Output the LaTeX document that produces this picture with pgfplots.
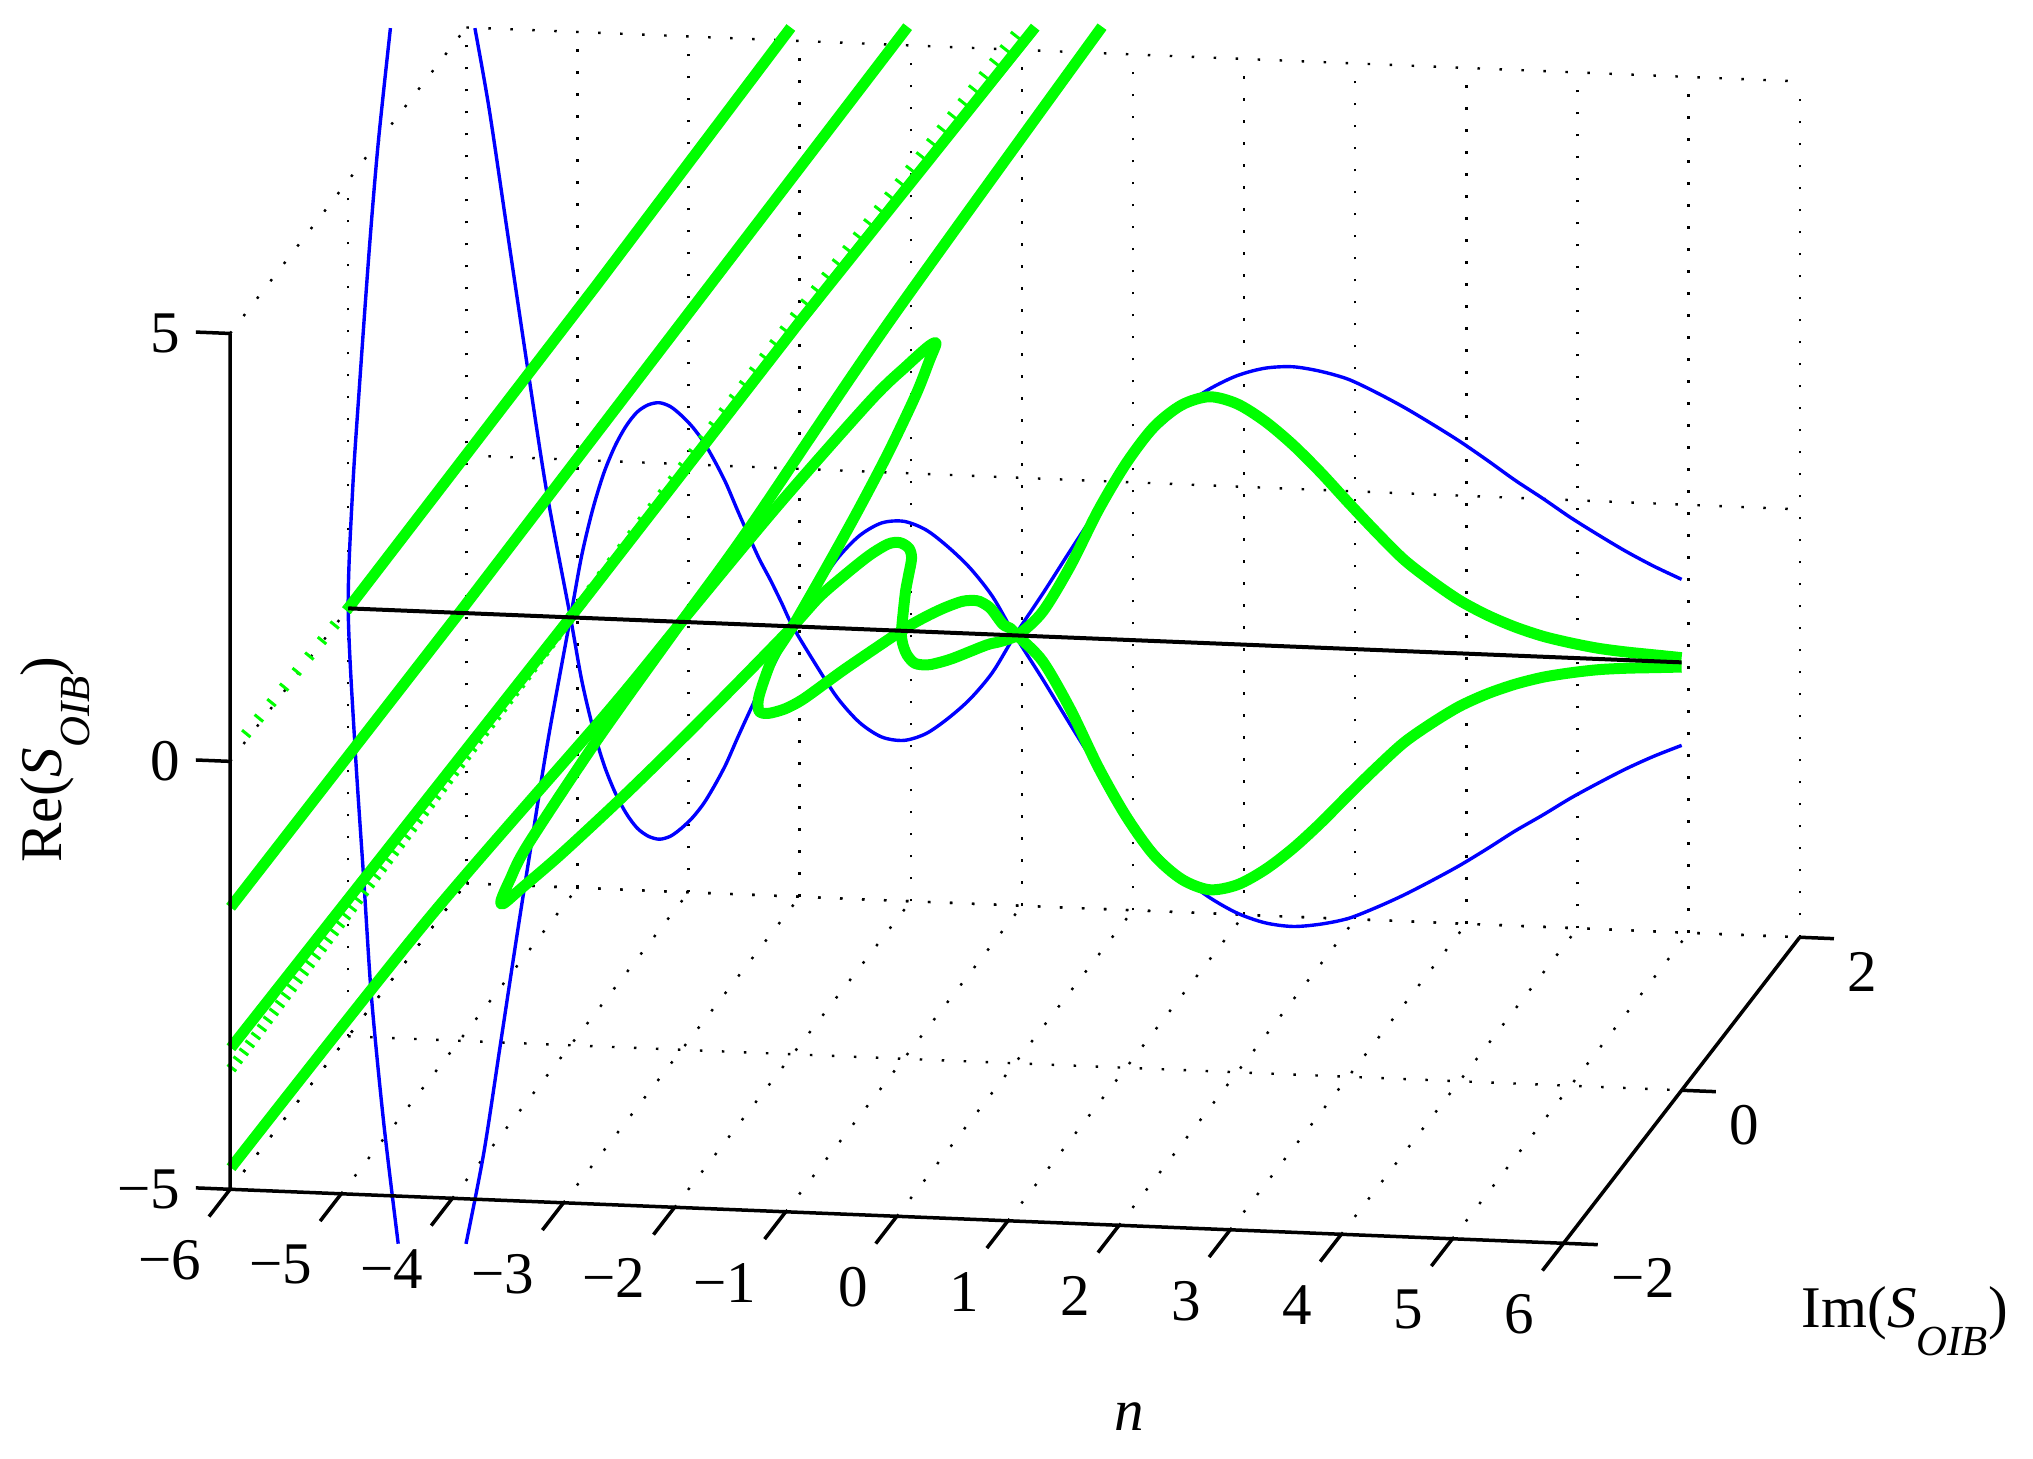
\documentclass[border=0pt]{standalone}
\usepackage{fontspec}
\setmainfont{Liberation Serif}
\usepackage{pgfplots}
\pgfplotsset{compat=1.18}
\definecolor{lgreen}{RGB}{0,255,0}
\definecolor{lblue}{RGB}{0,0,255}
\newcommand{\Soib}{\textit{S}\raisebox{-0.47em}{\fontsize{12.2}{12}\selectfont\textit{OIB}}}
\begin{document}
\begin{tikzpicture}
\begin{axis}[
  x={(1.1112cm,-0.045cm)}, y={(0.5905cm,0.765cm)}, z={(0cm,0.8558cm)},
  xmin=-6, xmax=6, ymin=-2, ymax=2, zmin=-5, zmax=5,
  clip=false,
  font=\fontsize{16.8}{20}\selectfont,
  xtick={-6,-5,-4,-3,-2,-1,0,1,2,3,4,5,6},
  ytick={-2,0,2},
  ztick={-5,0,5},
  xticklabels={−6,−5,−4,−3,−2,−1,0,1,2,3,4,5,6},
  yticklabels={−2,0,2},
  zticklabels={−5,0,5},
  xticklabel style={anchor=east,inner sep=0pt,xshift=-0.285cm,yshift=-0.71cm},
  yticklabel style={anchor=west,inner sep=0pt,xshift=0.475cm,yshift=-0.35cm},
  zticklabel style={anchor=east,inner sep=0pt,xshift=-0.49cm,yshift=0cm},
  grid=major,
  grid style={black,line width=0.024cm,dash pattern=on 0.025cm off 0.195cm},
  axis line style={draw=none},
  major tick style={draw=none},
  tick align=outside,
  major tick length=0pt,
  every axis x label/.style={at={(axis cs:1.03,0,-9.07)},anchor=center},
  every axis y label/.style={at={(axis cs:6.97,0,-7.72)},anchor=base west},
  every axis z label/.style={at={(axis cs:-8.58,0,-3.25)},rotate=90,anchor=base west},
  xlabel={\textit{n}},
  ylabel={Im(\Soib)},
  zlabel={Re(\Soib)},
  unbounded coords=jump,
]
% blue curves, Im = 0
\addplot3[lblue,line width=0.034cm,smooth] coordinates {
 (-5.62,0,6.8)(-5.73,0,5.45)(-5.81,0,4.21)(-5.90,0,2.58)(-5.96,0,1.39)(-6,0,0)
 (-5.94,0,-1.59)(-5.86,0,-3.16)(-5.79,0,-4.54)(-5.68,0,-6.0)(-5.55,0,-7.4)};
\addplot3[lblue,line width=0.034cm,smooth] coordinates {
 (-4.86,0,6.84)(-4.73,0,5.89)(-4.55,0,4.32)(-4.37,0,2.76)(-4.21,0,1.43)(-4,0,0)
 (-3.9,0,-0.72)(-3.8,0,-1.27)(-3.7,0,-1.70)(-3.6,0,-2.02)(-3.5,0,-2.26)(-3.4,0,-2.43)(-3.3,0,-2.52)(-3.2,0,-2.55)
 (-3.1,0,-2.51)(-3.0,0,-2.41)(-2.9,0,-2.28)(-2.8,0,-2.11)(-2.7,0,-1.89)(-2.6,0,-1.64)(-2.5,0,-1.34)(-2.4,0,-1.05)
 (-2.3,0,-0.77)(-2.2,0,-0.53)(-2.1,0,-0.27)(-2,0,0)
 (-1.8,0,0.42)(-1.6,0,0.81)(-1.4,0,1.09)(-1.2,0,1.25)(-1.0,0,1.28)(-0.8,0,1.19)(-0.6,0,1.0)(-0.4,0,0.76)(-0.2,0,0.44)(0,0,0)
 (0.25,0,-0.50)(0.5,0,-1.02)(0.75,0,-1.53)(1,0,-2.03)(1.25,0,-2.44)(1.5,0,-2.74)(1.75,0,-2.97)(2,0,-3.14)(2.25,0,-3.24)(2.5,0,-3.27)
 (2.75,0,-3.23)(3,0,-3.15)(3.25,0,-3.01)(3.5,0,-2.85)(3.75,0,-2.67)(4,0,-2.48)(4.25,0,-2.27)(4.5,0,-2.05)(4.75,0,-1.85)
 (5,0,-1.64)(5.25,0,-1.45)(5.5,0,-1.27)(5.75,0,-1.11)(6,0,-0.97)};
\addplot3[lblue,line width=0.034cm,smooth] coordinates {
 (-4.94,0,-7.37)(-4.78,0,-6.3)(-4.63,0,-5.02)(-4.48,0,-3.73)(-4.35,0,-2.65)(-4.2,0,-1.43)(-4,0,0)
 (-3.9,0,0.72)(-3.8,0,1.27)(-3.7,0,1.70)(-3.6,0,2.02)(-3.5,0,2.26)(-3.4,0,2.43)(-3.3,0,2.52)(-3.2,0,2.55)
 (-3.1,0,2.51)(-3.0,0,2.41)(-2.9,0,2.28)(-2.8,0,2.11)(-2.7,0,1.89)(-2.6,0,1.64)(-2.5,0,1.34)(-2.4,0,1.05)
 (-2.3,0,0.77)(-2.2,0,0.53)(-2.1,0,0.27)(-2,0,0)
 (-1.8,0,-0.42)(-1.6,0,-0.81)(-1.4,0,-1.09)(-1.2,0,-1.25)(-1.0,0,-1.28)(-0.8,0,-1.19)(-0.6,0,-1.0)(-0.4,0,-0.76)(-0.2,0,-0.44)(0,0,0)
 (0.25,0,0.50)(0.5,0,1.02)(0.75,0,1.53)(1,0,2.03)(1.25,0,2.44)(1.5,0,2.74)(1.75,0,2.97)(2,0,3.14)(2.25,0,3.24)(2.5,0,3.27)
 (2.75,0,3.23)(3,0,3.15)(3.25,0,3.01)(3.5,0,2.85)(3.75,0,2.67)(4,0,2.48)(4.25,0,2.27)(4.5,0,2.05)(4.75,0,1.85)
 (5,0,1.64)(5.25,0,1.45)(5.5,0,1.27)(5.75,0,1.11)(6,0,0.97)};
% green: sparse samples first
\addplot3[lgreen,line width=0.11cm,dash pattern=on 0.03cm off 0.17cm] coordinates {(-6,0,0)(-6.05,-1.79,0)};
\addplot3[lgreen,line width=0.11cm,dash pattern=on 0.03cm off 0.07cm] coordinates {(-3.92,-5.9,0)(-4,0,0)};
\addplot3[lgreen,line width=0.11cm,dash pattern=on 0.03cm off 0.14cm] coordinates {(-4,0,0)(-4.07,3.86,0)(-4.04,7.65,0)};
% green: straight runs
\addplot3[lgreen,line width=0.11cm] coordinates {(-6,0,0)(-6.01,4.22,0)(-6.05,7.59,0)};
\addplot3[lgreen,line width=0.11cm] coordinates {(-5.013,-3.85,0)(-5,0,0)(-5.036,7.66,0)};
\addplot3[lgreen,line width=0.11cm] coordinates {(-4.064,-5.63,0)(-4,0,0)(-3.99,3.89,0)(-3.92,7.72,0)};
% green: the two branches
\addplot3[lgreen,line width=0.11cm,line join=round,smooth] coordinates {
 (6,0,0.055)(5.75,0,0.075)(5.5,0,0.095)(5.25,0,0.125)(5,0,0.175)(4.75,0,0.24)(4.5,0,0.335)(4.25,0,0.46)(4,0,0.62)(3.75,0,0.83)
 (3.5,0,1.07)(3.25,0,1.38)(3,0,1.71)(2.75,0,2.05)(2.5,0,2.36)(2.25,0,2.62)(2,0,2.81)(1.75,0,2.88)(1.5,0,2.77)(1.25,0,2.50)
 (1,0,2.06)(0.75,0,1.50)(0.5,0,0.84)(0.25,0,0.29)(0.03,0,0.01)
 (-0.089,-0.088,0)(-0.182,-0.136,0)(-0.385,-0.322,0)(-0.496,-0.393,0)(-0.572,-0.421,0)(-0.686,-0.405,0)
 (-0.81,-0.303,0)(-0.927,-0.158,0)(-1.021,0.001,0)(-1.24,0.477,0)(-1.326,0.689,0)(-1.421,0.924,0)
 (-1.512,1.05,0)(-1.628,1.116,0)(-1.72,1.094,0)(-1.807,0.945,0)(-1.886,0.70,0)(-1.965,0.388,0)(-2,0,0)
 (-2.10,-0.75,0)(-2.21,-1.5,0)(-2.335,-2.25,0)(-2.485,-3.0,0)(-2.60,-3.45,0)(-2.655,-3.66,0)(-2.70,-3.62,0)(-2.76,-3.36,0)
 (-2.84,-2.906,0)(-2.942,-1.528,0)(-3.0,-0.034,0)(-3.04,1.204,0)(-3.21,3.93,0)(-3.34,7.76,0)};
\addplot3[lgreen,line width=0.11cm,line join=round,smooth] coordinates {
 (6,0,-0.055)(5.75,0,-0.075)(5.5,0,-0.095)(5.25,0,-0.125)(5,0,-0.175)(4.75,0,-0.24)(4.5,0,-0.335)(4.25,0,-0.46)(4,0,-0.62)(3.75,0,-0.83)
 (3.5,0,-1.07)(3.25,0,-1.38)(3,0,-1.71)(2.75,0,-2.05)(2.5,0,-2.36)(2.25,0,-2.62)(2,0,-2.81)(1.75,0,-2.88)(1.5,0,-2.77)(1.25,0,-2.50)
 (1,0,-2.06)(0.75,0,-1.50)(0.5,0,-0.84)(0.25,0,-0.29)(0.03,0,-0.01)
 (-0.089,0.088,0)(-0.182,0.136,0)(-0.385,0.322,0)(-0.496,0.393,0)(-0.572,0.421,0)(-0.686,0.405,0)
 (-0.81,0.303,0)(-0.927,0.158,0)(-1.021,-0.001,0)(-1.24,-0.477,0)(-1.326,-0.689,0)(-1.421,-0.924,0)
 (-1.512,-1.05,0)(-1.628,-1.116,0)(-1.72,-1.094,0)(-1.807,-0.945,0)(-1.886,-0.70,0)(-1.965,-0.388,0)(-2,0,0)
 (-2.10,0.75,0)(-2.21,1.5,0)(-2.335,2.25,0)(-2.485,3.0,0)(-2.60,3.45,0)(-2.655,3.66,0)(-2.70,3.62,0)(-2.76,3.36,0)
 (-2.84,2.906,0)(-2.942,1.528,0)(-3.0,0.034,0)(-3.04,-1.204,0)(-3.21,-3.93,0)(-3.255,-7.15,0)};
% n axis line and the box edges
\addplot3[black,line width=0.04cm] coordinates {(-6,0,0)(6,0,0)};
\addplot3[black,line width=0.035cm] coordinates {(-6,-2,5)(-6,-2,-5)(6,-2,-5)(6,2,-5)};
% tick marks: x along -y, y along +x, z along -x
\addplot3[black,line width=0.035cm] coordinates {
 (-6,-2,-5)(-6,-2.357,-5)(nan,nan,nan)(-5,-2,-5)(-5,-2.357,-5)(nan,nan,nan)
 (-4,-2,-5)(-4,-2.357,-5)(nan,nan,nan)(-3,-2,-5)(-3,-2.357,-5)(nan,nan,nan)
 (-2,-2,-5)(-2,-2.357,-5)(nan,nan,nan)(-1,-2,-5)(-1,-2.357,-5)(nan,nan,nan)
 (0,-2,-5)(0,-2.357,-5)(nan,nan,nan)(1,-2,-5)(1,-2.357,-5)(nan,nan,nan)
 (2,-2,-5)(2,-2.357,-5)(nan,nan,nan)(3,-2,-5)(3,-2.357,-5)(nan,nan,nan)
 (4,-2,-5)(4,-2.357,-5)(nan,nan,nan)(5,-2,-5)(5,-2.357,-5)(nan,nan,nan)
 (6,-2,-5)(6,-2.357,-5)(nan,nan,nan)
 (6,-2,-5)(6.308,-2,-5)(nan,nan,nan)(6,0,-5)(6.308,0,-5)(nan,nan,nan)(6,2,-5)(6.308,2,-5)(nan,nan,nan)
 (-6,-2,-5)(-6.308,-2,-5)(nan,nan,nan)(-6,-2,0)(-6.308,-2,0)(nan,nan,nan)(-6,-2,5)(-6.308,-2,5)};
\coordinate (O) at (axis cs:-6,-2,-5);
\end{axis}
\pgfresetboundingbox
\path[use as bounding box] ([shift={(-2.301,-2.697)}]O) rectangle ([shift={(18.029,11.893)}]O);
\end{tikzpicture}
\end{document}
